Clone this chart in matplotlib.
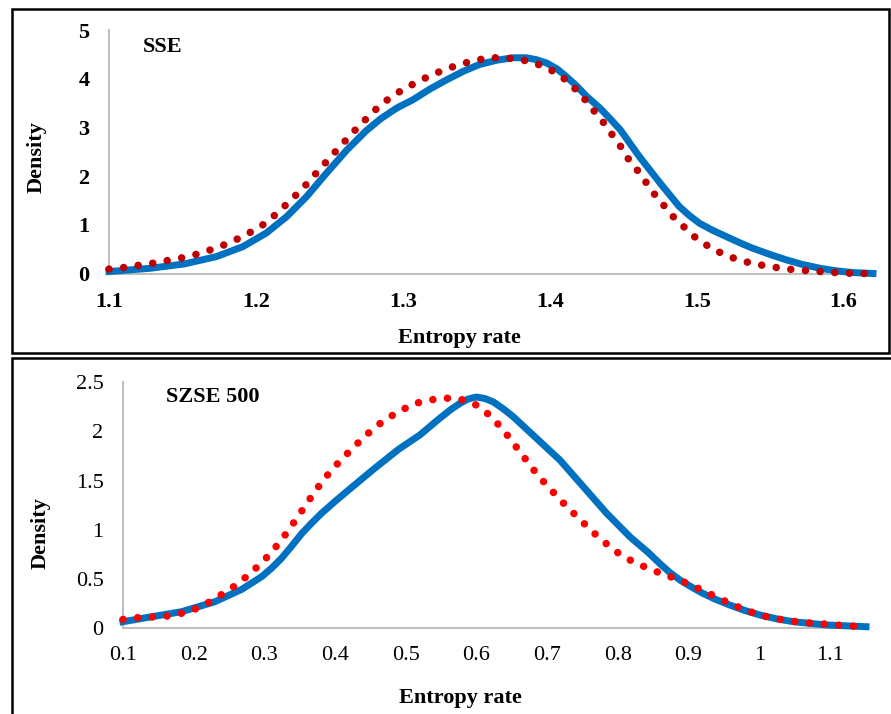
import numpy as np
import matplotlib.pyplot as plt
from matplotlib.patches import Rectangle

# SSE panel
sse_blue_x = [1.100, 1.128, 1.151, 1.173, 1.191, 1.207, 1.221, 1.2345, 1.248, 1.262, 1.275,
              1.285, 1.296, 1.307, 1.318, 1.330, 1.341, 1.352, 1.364, 1.375, 1.384, 1.391,
              1.398, 1.405, 1.411, 1.418, 1.425, 1.434, 1.441, 1.448, 1.461, 1.475, 1.488,
              1.495, 1.502, 1.511, 1.520, 1.529, 1.538, 1.550, 1.561, 1.572, 1.584, 1.595,
              1.606, 1.620]
sse_blue_y = [0.04, 0.107, 0.195, 0.346, 0.55, 0.83, 1.17, 1.58, 2.06, 2.54, 2.93,
              3.18, 3.40, 3.57, 3.78, 3.98, 4.15, 4.29, 4.38, 4.43, 4.43, 4.39,
              4.32, 4.20, 4.05, 3.86, 3.64, 3.40, 3.18, 2.95, 2.40, 1.86, 1.38,
              1.19, 1.03, 0.885, 0.76, 0.635, 0.52, 0.39, 0.28, 0.185, 0.107, 0.055,
              0.02, 0.0]
sse_red_x = [1.100, 1.1063, 1.1165, 1.1267, 1.137, 1.1471, 1.1573, 1.1669, 1.1767, 1.1862,
             1.1955, 1.2043, 1.2122, 1.2199, 1.2274, 1.2345, 1.2413, 1.2481, 1.2551, 1.2619,
             1.2689, 1.2762, 1.2837, 1.2918, 1.3007, 1.3097, 1.319, 1.3288, 1.3383, 1.3485,
             1.3585, 1.3687, 1.3791, 1.3891, 1.3989, 1.4075, 1.4154, 1.4224, 1.429, 1.4356,
             1.4415, 1.4476, 1.4528, 1.4594, 1.4716, 1.4848, 1.4998, 1.5084, 1.5179, 1.5274,
             1.5374, 1.5474, 1.5576, 1.5678, 1.5782, 1.5884, 1.5989, 1.609, 1.6195]
sse_red_y = [0.09, 0.107, 0.154, 0.195, 0.25, 0.305, 0.374, 0.463, 0.566, 0.69,
             0.833, 0.99, 1.18, 1.395, 1.615, 1.835, 2.07, 2.30, 2.535, 2.76,
             2.99, 3.21, 3.43, 3.62, 3.79, 3.93, 4.07, 4.19, 4.29, 4.37,
             4.43, 4.43, 4.40, 4.33, 4.21, 4.06, 3.85, 3.63, 3.38, 3.14,
             2.89, 2.64, 2.38, 2.13, 1.615, 1.14, 0.72, 0.55, 0.40, 0.29,
             0.21, 0.154, 0.107, 0.072, 0.051, 0.031, 0.01, 0.0, 0.0]
sse_xticks = [1.1, 1.2, 1.3, 1.4, 1.5, 1.6]
sse_yticks = [0, 1, 2, 3, 4, 5]

# SZSE 500 panel
szse_blue_x = [0.100, 0.136, 0.183, 0.230, 0.268, 0.296, 0.310, 0.324, 0.338, 0.353, 0.367,
               0.381, 0.400, 0.419, 0.456, 0.490, 0.520, 0.548, 0.565, 0.577, 0.588, 0.600,
               0.612, 0.624, 0.638, 0.652, 0.685, 0.718, 0.751, 0.784, 0.817, 0.843, 0.859,
               0.873, 0.888, 0.904, 0.920, 0.938, 0.958, 0.980, 1.001, 1.024, 1.048, 1.095,
               1.151]
szse_blue_y = [0.067, 0.112, 0.169, 0.27, 0.396, 0.524, 0.61, 0.71, 0.83, 0.965, 1.07,
               1.17, 1.29, 1.405, 1.626, 1.82, 1.965, 2.134, 2.23, 2.287, 2.33, 2.35,
               2.335, 2.30, 2.23, 2.15, 1.93, 1.71, 1.44, 1.17, 0.93, 0.77, 0.66,
               0.57, 0.49, 0.42, 0.356, 0.295, 0.237, 0.18, 0.135, 0.097, 0.067, 0.034,
               0.016]
szse_red_x = [0.100, 0.1207, 0.142, 0.1632, 0.1844, 0.2046, 0.224, 0.2424, 0.2602, 0.2772,
              0.2927, 0.3074, 0.321, 0.3337, 0.346, 0.3583, 0.3705, 0.3828, 0.3965, 0.411,
              0.4262, 0.4412, 0.4577, 0.4751, 0.493, 0.5104, 0.534, 0.5553, 0.5765, 0.5972,
              0.6146, 0.6298, 0.6433, 0.6566, 0.6693, 0.6825, 0.6962, 0.7108, 0.7259, 0.7409,
              0.7564, 0.772, 0.7881, 0.8051, 0.8243, 0.844, 0.8639, 0.8837, 0.9035, 0.9233,
              0.9427, 0.962, 0.9818, 1.002, 1.0228, 1.0445, 1.0657, 1.0869, 1.1081, 1.1297,
              1.1505]
szse_red_y = [0.09, 0.108, 0.115, 0.125, 0.155, 0.203, 0.274, 0.356, 0.44, 0.54,
              0.643, 0.75, 0.87, 0.99, 1.12, 1.25, 1.38, 1.50, 1.62, 1.73,
              1.84, 1.945, 2.05, 2.14, 2.21, 2.28, 2.32, 2.34, 2.33, 2.28,
              2.19, 2.08, 1.965, 1.84, 1.72, 1.595, 1.48, 1.365, 1.25, 1.145,
              1.036, 0.93, 0.833, 0.74, 0.667, 0.606, 0.55, 0.50, 0.44, 0.372,
              0.308, 0.24, 0.183, 0.132, 0.098, 0.074, 0.057, 0.047, 0.034, 0.023,
              0.016]
szse_xticks = [0.1, 0.2, 0.3, 0.4, 0.5, 0.6, 0.7, 0.8, 0.9, 1.0, 1.1]
szse_xticklabels = ['0.1', '0.2', '0.3', '0.4', '0.5', '0.6', '0.7', '0.8', '0.9', '1', '1.1']
szse_yticks = [0, 0.5, 1, 1.5, 2, 2.5]
szse_yticklabels = ['0', '0.5', '1', '1.5', '2', '2.5']

plt.rcParams['font.family'] = 'Liberation Serif'

W, H = 891, 714
fig = plt.figure(figsize=(W / 100, H / 100), dpi=100)


def px_rect(left, top, right, bottom):
    # pixel box -> figure fraction [l, b, w, h]
    return [left / W, 1 - bottom / H, (right - left) / W, (bottom - top) / H]


# panel borders
fig.patches.append(Rectangle((12 / W, 1 - 353 / H), (889 - 12) / W, (353 - 9) / H,
                             transform=fig.transFigure, fill=False, lw=1.8, ec='black'))
fig.patches.append(Rectangle((12 / W, -0.05), 1.0, 1 - 358 / H + 0.05,
                             transform=fig.transFigure, fill=False, lw=1.8, ec='black',
                             clip_on=False))

blue = '#0070C0'
grey = '#BFBFBF'
dots = (0, (0.01, 1.95))


def style_axes(ax):
    for s in ['top', 'right']:
        ax.spines[s].set_visible(False)
    for s in ['left', 'bottom']:
        ax.spines[s].set_color(grey)
        ax.spines[s].set_linewidth(1.5)
    ax.tick_params(length=0)


# top: SSE
ax1 = fig.add_axes(px_rect(109, 30, 873, 273.5))
ax1.plot(sse_blue_x, sse_blue_y, color=blue, lw=5, clip_on=False, zorder=3,
         solid_joinstyle='round')
ax1.plot(sse_red_x, sse_red_y, color='#C00000', lw=5.4, linestyle=dots,
         dash_capstyle='round', clip_on=False, zorder=4)
ax1.set_xlim(1.1, 1.62)
ax1.set_ylim(0, 5)
ax1.set_xticks(sse_xticks)
ax1.set_xticklabels([f'{t:.1f}' for t in sse_xticks], fontsize=16, fontweight='bold')
ax1.set_yticks(sse_yticks)
ax1.set_yticklabels([str(t) for t in sse_yticks], fontsize=16, fontweight='bold')
ax1.tick_params(axis='x', pad=13)
ax1.tick_params(axis='y', pad=14)
style_axes(ax1)
ax1.set_xlabel('Entropy rate', fontsize=16, fontweight='bold')
ax1.xaxis.set_label_coords(0.459, -0.224)
ax1.set_ylabel('Density', fontsize=16, fontweight='bold')
ax1.yaxis.set_label_coords(-0.081, 0.478)
ax1.text(0.0445, 0.931, 'SSE', transform=ax1.transAxes, fontsize=16,
         fontweight='bold', va='center', ha='left')

# bottom: SZSE 500
ax2 = fig.add_axes(px_rect(123, 382.3, 866, 628.3))
ax2.plot(szse_blue_x, szse_blue_y, color=blue, lw=5, clip_on=False, zorder=3,
         solid_joinstyle='round')
ax2.plot(szse_red_x, szse_red_y, color='#FF0000', lw=5.4, linestyle=dots,
         dash_capstyle='round', clip_on=False, zorder=4)
ax2.set_xlim(0.1, 1.151)
ax2.set_ylim(0, 2.5)
ax2.set_xticks(szse_xticks)
ax2.set_xticklabels(szse_xticklabels, fontsize=16)
ax2.set_yticks(szse_yticks)
ax2.set_yticklabels(szse_yticklabels, fontsize=16)
ax2.tick_params(axis='x', pad=13)
ax2.tick_params(axis='y', pad=14)
style_axes(ax2)
ax2.set_xlabel('Entropy rate', fontsize=16, fontweight='bold')
ax2.xaxis.set_label_coords(0.4536, -0.244)
ax2.set_ylabel('Density', fontsize=16, fontweight='bold')
ax2.yaxis.set_label_coords(-0.098, 0.386)
ax2.text(0.0575, 0.939, 'SZSE 500', transform=ax2.transAxes, fontsize=16,
         fontweight='bold', va='center', ha='left')

fig.savefig('out.png', dpi=100)
